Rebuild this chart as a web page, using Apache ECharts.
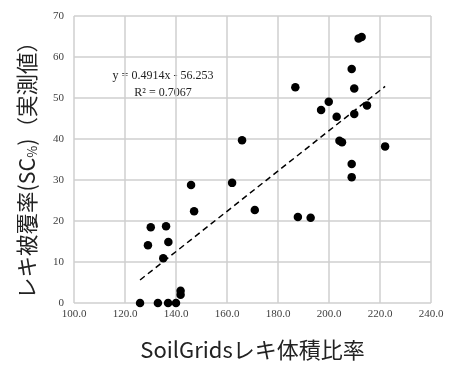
<!DOCTYPE html>
<html>
<head>
<meta charset="utf-8">
<script src="https://cdn.jsdelivr.net/npm/echarts@6/dist/echarts.min.js"></script>
<style>
  html, body { margin: 0; padding: 0; background: #fff; }
  #chart { width: 449px; height: 369px; }
</style>
</head>
<body>
<div id="chart"></div>
<script>
// SoilGrids gravel volume ratio (x) vs measured gravel cover SC% (y)
const soilGridsRatio = [
  125.9, 132.9, 136.9, 140.0, 141.8, 141.8, 129.0, 130.1, 136.1, 137.0, 135.0,
  145.9, 147.1, 162.0, 165.9, 170.9, 187.8, 192.8, 186.8, 196.9, 199.9, 203.0,
  204.1, 205.1, 208.9, 208.9, 208.9, 209.9, 209.9, 211.6, 212.8, 214.9, 222.0
];
const measuredCover = [
  0, 0, 0, 0, 3.0, 2.0, 14.1, 18.5, 18.7, 14.9, 10.9,
  28.8, 22.4, 29.3, 39.7, 22.7, 21.0, 20.8, 52.6, 47.1, 49.1, 45.4,
  39.6, 39.2, 33.9, 30.7, 57.1, 52.3, 46.1, 64.5, 64.9, 48.2, 38.2
];

// Linear fit as stated in the equation label
const fitSlope = 0.4914;
const fitIntercept = -56.253;
const fitR2 = 0.7067;
const fitRange = [125.9, 222.0];

// Tick positions (also used for the grid lines)
const xTickValues = [100, 120, 140, 160, 180, 200, 220, 240];
const yTickValues = [0, 10, 20, 30, 40, 50, 60, 70];

const points = soilGridsRatio.map((x, i) => [x, measuredCover[i]]);
const fitLine = fitRange.map(x => [x, fitSlope * x + fitIntercept]);

const chart = echarts.init(document.getElementById('chart'), null, { renderer: 'canvas' });

const tickFont = { fontFamily: 'Liberation Serif', fontSize: 11, color: '#404040' };
const hiddenTick = { show: true, length: 0, lineStyle: { color: 'rgba(0,0,0,0)' } };

const gridMarks = xTickValues.map(v => ({ xAxis: v }))
  .concat(yTickValues.map(v => ({ yAxis: v })));

chart.setOption({
  animation: false,
  backgroundColor: '#ffffff',
  grid: { left: 74, right: 18, top: 16, bottom: 66 },
  xAxis: {
    type: 'value',
    min: xTickValues[0], max: xTickValues[xTickValues.length - 1],
    interval: xTickValues[1] - xTickValues[0],
    axisLine: { show: false },
    axisTick: hiddenTick,
    splitLine: { show: false },
    axisLabel: Object.assign({ margin: 6, formatter: v => v.toFixed(1) }, tickFont),
    name: 'SoilGridsレキ体積比率',
    nameLocation: 'middle',
    nameGap: 36,
    nameTextStyle: { fontFamily: 'Noto Sans CJK JP', fontSize: 22, color: '#222' }
  },
  yAxis: {
    type: 'value',
    min: yTickValues[0], max: yTickValues[yTickValues.length - 1],
    interval: yTickValues[1] - yTickValues[0],
    axisLine: { show: false },
    axisTick: hiddenTick,
    splitLine: { show: false },
    axisLabel: Object.assign({ margin: 10 }, tickFont)
  },
  graphic: [
    {
      type: 'text',
      x: 27, y: 165,
      rotation: Math.PI / 2,
      style: {
        text: 'レキ被覆率(SC{sub|%})（実測値）',
        align: 'center',
        verticalAlign: 'middle',
        fontFamily: 'Noto Sans CJK JP',
        fontSize: 21.5,
        fill: '#222',
        rich: {
          sub: { fontFamily: 'Noto Sans CJK JP', fontSize: 13, fill: '#222', padding: [10, 0, 0, 0] }
        }
      }
    },
    {
      type: 'text',
      x: 163, y: 84,
      style: {
        text: 'y = ' + fitSlope + 'x - ' + Math.abs(fitIntercept) + '\nR² = ' + fitR2,
        align: 'center',
        verticalAlign: 'middle',
        fontFamily: 'Liberation Serif',
        fontSize: 12,
        lineHeight: 17,
        fill: '#222'
      }
    }
  ],
  series: [
    {
      // grid lines at every tick, kept beneath the data
      type: 'line',
      data: [],
      z: 0,
      markLine: {
        z: 0,
        silent: true,
        animation: false,
        symbol: ['none', 'none'],
        label: { show: false },
        lineStyle: { color: '#cfcfcf', width: 1.5, type: 'solid' },
        emphasis: { disabled: true },
        data: gridMarks
      }
    },
    {
      type: 'line',
      data: fitLine,
      symbol: 'none',
      lineStyle: { color: '#000', width: 1.5, type: [6, 4] },
      z: 2
    },
    {
      type: 'scatter',
      data: points,
      symbol: 'circle',
      symbolSize: 8.5,
      itemStyle: { color: '#000', opacity: 1 },
      z: 3
    }
  ]
});
</script>
</body>
</html>
